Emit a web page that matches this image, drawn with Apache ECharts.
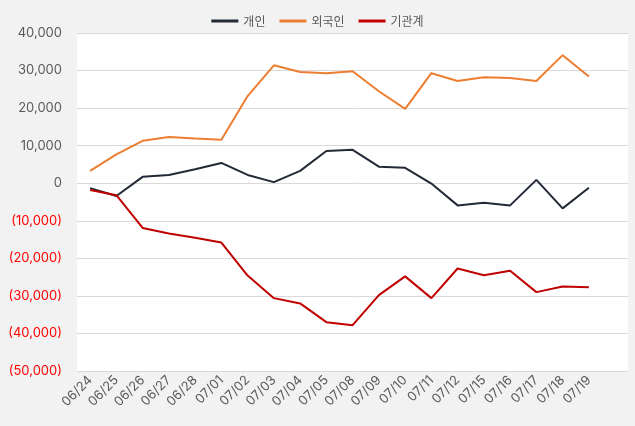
<!DOCTYPE html>
<html><head><meta charset="utf-8">
<script src="https://cdn.jsdelivr.net/npm/echarts@6/dist/echarts.min.js"></script>
<style>html,body{margin:0;padding:0;background:#f2f2f2;}#c{width:635px;height:426px;}</style>
</head><body><div id="c"></div>
<script>
const categories = ['06/24','06/25','06/26','06/27','06/28','07/01','07/02','07/03','07/04','07/05','07/08','07/09','07/10','07/11','07/12','07/15','07/16','07/17','07/18','07/19'];
const individual = [-1300,-3400,1700,2200,3700,5400,2200,300,3300,8600,8900,4400,4100,-100,-5900,-5200,-5900,900,-6700,-1200];
const foreign = [3300,7700,11300,12300,11900,11600,23200,31400,29600,29300,29800,24500,19800,29300,27200,28200,28000,27200,34100,28400];
const institution = [-1800,-3200,-11900,-13400,-14500,-15800,-24600,-30600,-32000,-37000,-37800,-29800,-24800,-30600,-22700,-24500,-23300,-29000,-27500,-27700];
const seriesNames = ['개인','외국인','기관계'];
const yTicks = {min:-50000, max:40000, interval:10000};

const font = "Inter,'Noto Sans CJK KR',sans-serif";
const chart = echarts.init(document.getElementById('c'));
function fmt(v){
  const s = Math.abs(v).toLocaleString('en-US');
  return v < 0 ? '{n|(' + s + ')}' : '{p|' + s + '}';
}
chart.setOption({
  backgroundColor:'#f2f2f2',
  textStyle:{fontFamily:font},
  legend:{
    data:seriesNames, top:10, left:'center', icon:'rect', itemWidth:27, itemHeight:3, itemGap:14,
    textStyle:{color:'#595959', fontSize:12, fontFamily:"'Noto Sans CJK KR',sans-serif"}
  },
  grid:[
    {left:77, right:7, top:33, bottom:55, show:true, backgroundColor:'#ffffff', borderWidth:0},
    {left:77, right:33, top:33, bottom:55}
  ],
  xAxis:[
    {type:'category', gridIndex:0, data:categories, show:false},
    {type:'category', gridIndex:1, data:categories, boundaryGap:true,
     axisLine:{show:false}, axisTick:{show:false},
     axisLabel:{rotate:45, color:'#595959', fontSize:13, fontFamily:font, margin:7, interval:0}}
  ],
  yAxis:[
    {type:'value', gridIndex:0, min:yTicks.min, max:yTicks.max, interval:yTicks.interval,
     axisLine:{show:false}, axisTick:{show:false},
     splitLine:{lineStyle:{color:'#d9d9d9', width:1}},
     axisLabel:{margin:15, formatter:fmt, rich:{p:{color:'#595959', fontSize:13, fontFamily:font}, n:{color:'#ff0000', fontSize:13, fontFamily:font}}}},
    {type:'value', gridIndex:1, min:yTicks.min, max:yTicks.max, interval:yTicks.interval, show:false}
  ],
  series:[
    {name:seriesNames[0], type:'line', xAxisIndex:1, yAxisIndex:1, data:individual, showSymbol:false, symbol:'none', lineStyle:{width:2, color:'#222a35'}, itemStyle:{color:'#222a35'}},
    {name:seriesNames[1], type:'line', xAxisIndex:1, yAxisIndex:1, data:foreign, showSymbol:false, symbol:'none', lineStyle:{width:2, color:'#ed7d31'}, itemStyle:{color:'#ed7d31'}},
    {name:seriesNames[2], type:'line', xAxisIndex:1, yAxisIndex:1, data:institution, showSymbol:false, symbol:'none', lineStyle:{width:2, color:'#c00000'}, itemStyle:{color:'#c00000'}}
  ],
  animation:false
});
</script></body></html>
